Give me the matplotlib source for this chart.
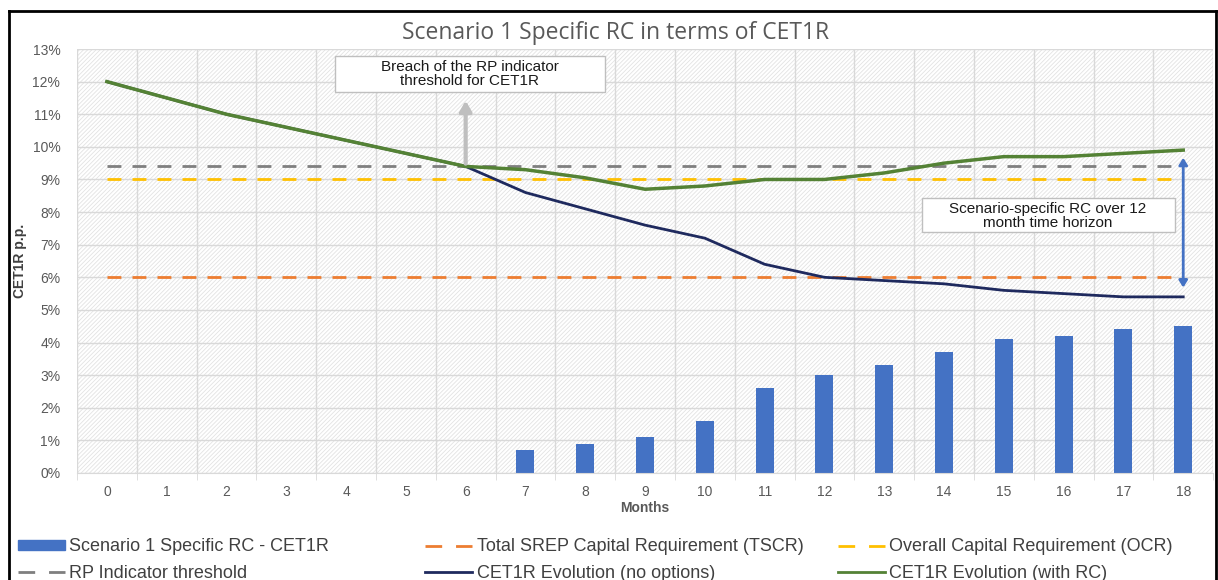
import matplotlib
matplotlib.use("Agg")
import matplotlib.pyplot as plt
import numpy as np
from matplotlib.lines import Line2D
from matplotlib.patches import Patch, Rectangle

months = list(range(19))
rc_bars = [0, 0, 0, 0, 0, 0, 0, 0.7, 0.9, 1.1, 1.6, 2.6, 3.0, 3.3, 3.7, 4.1, 4.2, 4.4, 4.5]
cet1_no_options = [12.0, 11.5, 11.0, 10.6, 10.2, 9.8, 9.4, 8.6, 8.1, 7.6, 7.2, 6.4, 6.0, 5.9, 5.8, 5.6, 5.5, 5.4, 5.4]
cet1_with_rc = [12.0, 11.5, 11.0, 10.6, 10.2, 9.8, 9.4, 9.3, 9.05, 8.7, 8.8, 9.0, 9.0, 9.2, 9.5, 9.7, 9.7, 9.8, 9.9]
tscr = 6.0
ocr = 9.0
rp_threshold = 9.4
y_ticks = list(range(0, 14))

C_BAR = "#4472C4"
C_NAVY = "#1F2A5E"
C_GREEN = "#548235"
C_ORANGE = "#ED7D31"
C_YELLOW = "#FFC000"
C_GRAY = "#7F7F7F"
C_TXT = "#595959"

plt.rcParams["font.family"] = ["Liberation Sans", "DejaVu Sans"]
plt.rcParams["hatch.color"] = "#e3e3e3"
plt.rcParams["hatch.linewidth"] = 0.6

fig = plt.figure(figsize=(12.18, 5.8), dpi=100)
ax = fig.add_axes([0.0632, 0.1845, 0.9328, 0.731])
ax.set_facecolor("white")
ax.patch.set_hatch("////////")
ax.patch.set_edgecolor("#e3e3e3")

ax.set_xlim(-0.5, 18.5)
ax.set_ylim(0, 13)

# grid
for yv in y_ticks:
    ax.axhline(yv, color="#d9d9d9", lw=1.0, zorder=0.5)
for xv in np.arange(-0.5, 19, 1):
    ax.axvline(xv, color="#d9d9d9", lw=1.0, zorder=0.5)

ax.bar(months, rc_bars, width=0.3, color=C_BAR, zorder=2)

x0, x1 = months[0], months[-1]
ax.plot([x0, x1], [rp_threshold] * 2, color=C_GRAY, lw=2, dashes=(5, 4), zorder=3)
ax.plot([x0, x1], [ocr] * 2, color=C_YELLOW, lw=2, dashes=(5, 4), zorder=3)
ax.plot([x0, x1], [tscr] * 2, color=C_ORANGE, lw=2, dashes=(5, 4), zorder=3)
ax.plot(months, cet1_no_options, color=C_NAVY, lw=2, zorder=4)
ax.plot(months, cet1_with_rc, color=C_GREEN, lw=2.5, zorder=5)

# annotations
ax.annotate("", xy=(6.0, 11.5), xytext=(6.0, 9.4),
            arrowprops=dict(arrowstyle="-|>,head_width=0.35,head_length=0.6",
                            color="#BFBFBF", lw=3), zorder=6)
ax.add_patch(Rectangle((3.81, 11.69), 4.52, 1.10, fc="white", ec="#bfbfbf", lw=1, zorder=7))
ax.text(6.07, 12.22, "Breach of the RP indicator\nthreshold for CET1R", ha="center", va="center",
        fontsize=11, color="#1a1a1a", linespacing=1.0, zorder=8)
ax.annotate("", xy=(18.0, 9.75), xytext=(18.0, 5.6),
            arrowprops=dict(arrowstyle="<|-|>,head_width=0.25,head_length=0.4",
                            color=C_BAR, lw=2), zorder=6)
ax.add_patch(Rectangle((13.63, 7.39), 4.23, 1.05, fc="white", ec="#bfbfbf", lw=1, zorder=7))
ax.text(15.74, 7.89, "Scenario-specific RC over 12\nmonth time horizon", ha="center", va="center",
        fontsize=11, color="#1a1a1a", linespacing=1.0, zorder=8)

# axes styling
for s in ["top", "right", "left"]:
    ax.spines[s].set_visible(False)
ax.spines["bottom"].set_color("#d9d9d9")
ax.set_yticks(y_ticks)
ax.set_yticklabels([f"{v}%" for v in y_ticks])
ax.set_xticks(months)
ax.set_xticklabels([str(m) for m in months])
ax.tick_params(axis="y", length=0, labelsize=10, colors=C_TXT, pad=12)
ax.tick_params(axis="x", length=0, labelsize=10, colors=C_TXT, pad=9)
ax.set_xticks(np.arange(-0.5, 19, 1), minor=True)
ax.tick_params(axis="x", which="minor", length=5, color="#d9d9d9")

ax.set_xlabel("Months", fontsize=10, fontweight="bold", color=C_TXT, labelpad=1)
ax.set_ylabel("CET1R p.p.", fontsize=10, fontweight="bold", color="#404040")
ax.yaxis.set_label_coords(-0.044, 0.5)

fig.text(0.505, 0.943, "Scenario 1 Specific RC in terms of CET1R", ha="center", va="center",
         fontsize=16.5, color="#595959", family=["Open Sans", "DejaVu Sans"])

legend_cols = [
    (0.0148, [Patch(facecolor=C_BAR, edgecolor=C_BAR),
              Line2D([], [], color=C_GRAY, lw=2, dashes=(6, 5))],
     ["Scenario 1 Specific RC - CET1R", "RP Indicator threshold"]),
    (0.349, [Line2D([], [], color=C_ORANGE, lw=2, dashes=(6, 5)),
             Line2D([], [], color=C_NAVY, lw=2)],
     ["Total SREP Capital Requirement (TSCR)", "CET1R Evolution (no options)"]),
    (0.688, [Line2D([], [], color=C_YELLOW, lw=2, dashes=(6, 5)),
             Line2D([], [], color=C_GREEN, lw=2)],
     ["Overall Capital Requirement (OCR)", "CET1R Evolution (with RC)"]),
]
for xa, hs, ls in legend_cols:
    leg = fig.legend(hs, ls, ncol=1, loc="center left", bbox_to_anchor=(xa, 0.034),
                     frameon=False, fontsize=13, handlelength=2.6, handleheight=0.5,
                     labelspacing=0.55, handletextpad=0.25, borderpad=0, borderaxespad=0)
    for t in leg.get_texts():
        t.set_color("#404040")

# figure frame
fig.add_artist(Line2D([0.007, 0.998], [0.981, 0.981], color="black", lw=2, transform=fig.transFigure))
fig.add_artist(Line2D([0.007, 0.007], [0.0, 0.981], color="black", lw=2, transform=fig.transFigure))
fig.add_artist(Line2D([0.998, 0.998], [0.0, 0.981], color="black", lw=2, transform=fig.transFigure))

fig.savefig("out.png", dpi=100)
